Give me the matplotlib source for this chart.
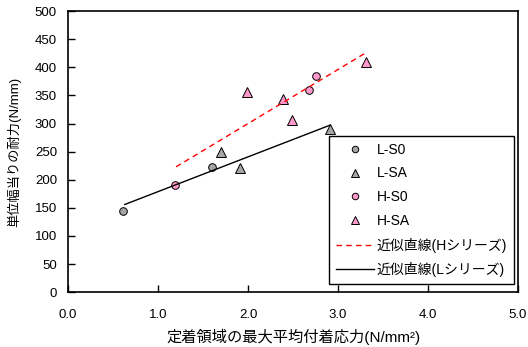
import matplotlib
matplotlib.use("Agg")
import matplotlib.pyplot as plt
import numpy as np

plt.rcParams['font.family'] = ['Liberation Sans', 'Noto Sans CJK JP', 'DejaVu Sans']

# measured points
ls0_x = [0.61, 1.60]
ls0_y = [144, 222]
lsa_x = [1.70, 1.91, 2.91]
lsa_y = [249, 221, 291]
hs0_x = [1.19, 2.68, 2.76]
hs0_y = [191, 360, 385]
hsa_x = [1.99, 2.39, 2.49, 3.31]
hsa_y = [356, 344, 306, 409]

# approximate lines (end points)
h_line_x = [1.20, 3.30]
h_line_y = [223, 425]
l_line_x = [0.63, 2.91]
l_line_y = [156, 297]

grey = '#a6a6a6'
pink = '#ff99cc'

fig = plt.figure(figsize=(5.28, 3.47), dpi=100)
ax = fig.add_axes([0.129, 0.158, 0.852, 0.810])

ax.plot(ls0_x, ls0_y, 'o', ms=5.5, mfc=grey, mec='black', mew=0.7, ls='none', label='L-S0')
ax.plot(lsa_x, lsa_y, '^', ms=6.5, mfc=grey, mec='black', mew=0.7, ls='none', label='L-SA')
ax.plot(hs0_x, hs0_y, 'o', ms=5.5, mfc=pink, mec='black', mew=0.7, ls='none', label='H-S0')
ax.plot(hsa_x, hsa_y, '^', ms=6.5, mfc=pink, mec='black', mew=0.7, ls='none', label='H-SA')
ax.plot(h_line_x, h_line_y, '--', color='red', lw=1.0, dashes=(4, 3), label='近似直線(Hシリーズ)')
ax.plot(l_line_x, l_line_y, '-', color='black', lw=1.0, label='近似直線(Lシリーズ)')

ax.set_xlim(0, 5)
ax.set_ylim(0, 500)
ax.set_xticks(np.arange(0, 5.01, 1.0))
ax.set_xticklabels([f'{v:.1f}' for v in np.arange(0, 5.01, 1.0)])
ax.set_yticks(np.arange(0, 501, 50))
ax.tick_params(direction='in', length=5, width=1, labelsize=9.5)
ax.tick_params(axis='x', pad=12)
ax.tick_params(axis='y', pad=8)
for s in ax.spines.values():
    s.set_linewidth(1.2)

ax.set_xlabel('定着領域の最大平均付着応力(N/mm²)', fontsize=11, va='center')
ax.set_ylabel('単位幅当りの耐力(N/mm)', fontsize=9.5, va='center')
ax.xaxis.set_label_coords(0.5, -0.16)
ax.yaxis.set_label_coords(-0.12, 0.5)

leg = ax.legend(loc='lower right', bbox_to_anchor=(0.991, 0.028), fontsize=10,
                frameon=True, fancybox=False, edgecolor='black', framealpha=1,
                handlelength=2.7, labelspacing=0.7, borderpad=0.5,
                handletextpad=0.2, borderaxespad=0, markerscale=0.85)
leg.get_frame().set_linewidth(1.0)

fig.savefig('out.png', dpi=100)
